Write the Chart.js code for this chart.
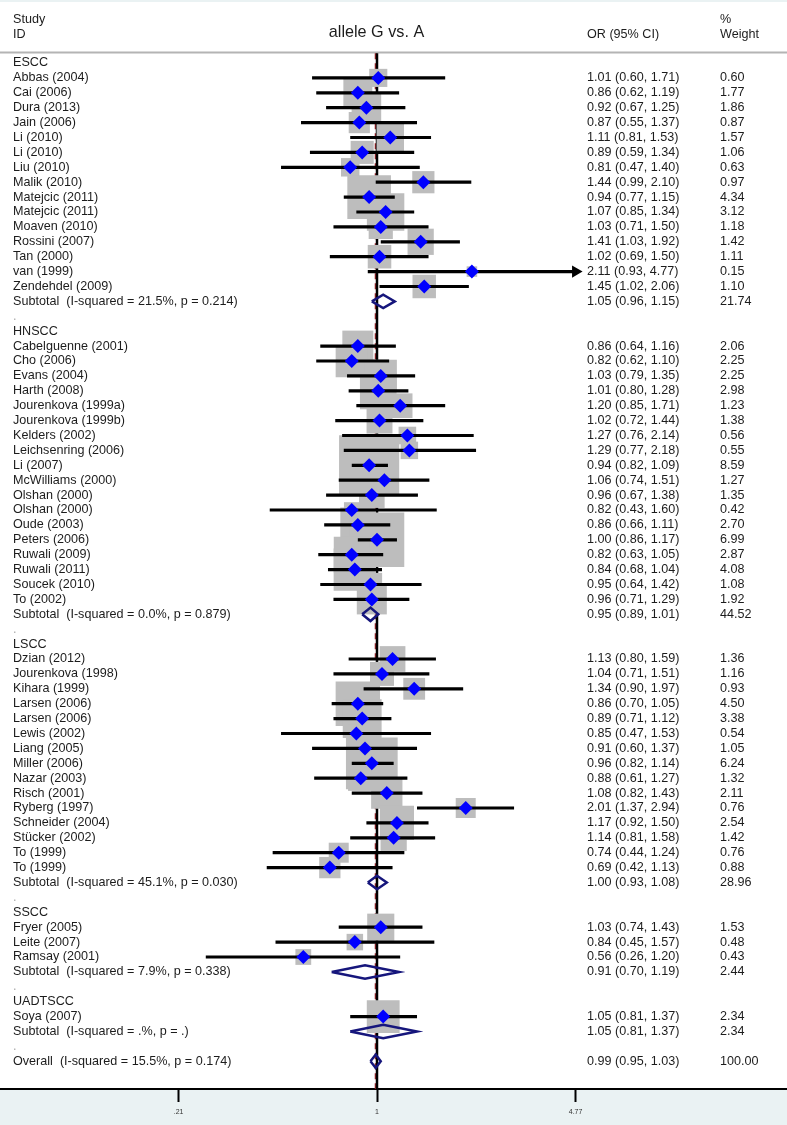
<!DOCTYPE html>
<html>
<head>
<meta charset="utf-8">
<script src="https://cdn.jsdelivr.net/npm/chart.js@4.4.1/dist/chart.umd.min.js"></script>
<style>
  html, body { margin: 0; padding: 0; background: #fff; }
  canvas { display: block; }
</style>
</head>
<body>
<canvas id="forest" width="787" height="1125"></canvas>
<script>
// forest plot rows, top to bottom (null = no estimate on that row)
const rowLabels = [
  'ESCC', 'Abbas (2004)', 'Cai (2006)', 'Dura (2013)', 'Jain (2006)', 'Li (2010)', 'Li (2010)', 'Liu (2010)',
  'Malik (2010)', 'Matejcic (2011)', 'Matejcic (2011)', 'Moaven (2010)', 'Rossini (2007)', 'Tan (2000)',
  'van (1999)', 'Zendehdel (2009)', 'Subtotal  (I-squared = 21.5%, p = 0.214)', '.',
  'HNSCC', 'Cabelguenne (2001)', 'Cho (2006)', 'Evans (2004)', 'Harth (2008)', 'Jourenkova (1999a)',
  'Jourenkova (1999b)', 'Kelders (2002)', 'Leichsenring (2006)', 'Li (2007)', 'McWilliams (2000)',
  'Olshan (2000)', 'Olshan (2000)', 'Oude (2003)', 'Peters (2006)', 'Ruwali (2009)', 'Ruwali (2011)',
  'Soucek (2010)', 'To (2002)', 'Subtotal  (I-squared = 0.0%, p = 0.879)', '.',
  'LSCC', 'Dzian (2012)', 'Jourenkova (1998)', 'Kihara (1999)', 'Larsen (2006)', 'Larsen (2006)',
  'Lewis (2002)', 'Liang (2005)', 'Miller (2006)', 'Nazar (2003)', 'Risch (2001)', 'Ryberg (1997)',
  'Schneider (2004)', 'Stücker (2002)', 'To (1999)', 'To (1999)', 'Subtotal  (I-squared = 45.1%, p = 0.030)', '.',
  'SSCC', 'Fryer (2005)', 'Leite (2007)', 'Ramsay (2001)', 'Subtotal  (I-squared = 7.9%, p = 0.338)', '.',
  'UADTSCC', 'Soya (2007)', 'Subtotal  (I-squared = .%, p = .)', '.',
  'Overall  (I-squared = 15.5%, p = 0.174)'
];

const orEst = [
  null, 1.01, 0.86, 0.92, 0.87, 1.11, 0.89, 0.81, 1.44, 0.94, 1.07, 1.03, 1.41, 1.02, 2.11, 1.45, 1.05, null,
  null, 0.86, 0.82, 1.03, 1.01, 1.20, 1.02, 1.27, 1.29, 0.94, 1.06, 0.96, 0.82, 0.86, 1.00, 0.82, 0.84, 0.95, 0.96, 0.95, null,
  null, 1.13, 1.04, 1.34, 0.86, 0.89, 0.85, 0.91, 0.96, 0.88, 1.08, 2.01, 1.17, 1.14, 0.74, 0.69, 1.00, null,
  null, 1.03, 0.84, 0.56, 0.91, null,
  null, 1.05, 1.05, null,
  0.99
];

const ciLow = [
  null, 0.60, 0.62, 0.67, 0.55, 0.81, 0.59, 0.47, 0.99, 0.77, 0.85, 0.71, 1.03, 0.69, 0.93, 1.02, 0.96, null,
  null, 0.64, 0.62, 0.79, 0.80, 0.85, 0.72, 0.76, 0.77, 0.82, 0.74, 0.67, 0.43, 0.66, 0.86, 0.63, 0.68, 0.64, 0.71, 0.89, null,
  null, 0.80, 0.71, 0.90, 0.70, 0.71, 0.47, 0.60, 0.82, 0.61, 0.82, 1.37, 0.92, 0.81, 0.44, 0.42, 0.93, null,
  null, 0.74, 0.45, 0.26, 0.70, null,
  null, 0.81, 0.81, null,
  0.95
];

const ciHigh = [
  null, 1.71, 1.19, 1.25, 1.37, 1.53, 1.34, 1.40, 2.10, 1.15, 1.34, 1.50, 1.92, 1.50, 4.77, 2.06, 1.15, null,
  null, 1.16, 1.10, 1.35, 1.28, 1.71, 1.44, 2.14, 2.18, 1.09, 1.51, 1.38, 1.60, 1.11, 1.17, 1.05, 1.04, 1.42, 1.29, 1.01, null,
  null, 1.59, 1.51, 1.97, 1.05, 1.12, 1.53, 1.37, 1.14, 1.27, 1.43, 2.94, 1.50, 1.58, 1.24, 1.13, 1.08, null,
  null, 1.43, 1.57, 1.20, 1.19, null,
  null, 1.37, 1.37, null,
  1.03
];

const weights = [
  null, 0.60, 1.77, 1.86, 0.87, 1.57, 1.06, 0.63, 0.97, 4.34, 3.12, 1.18, 1.42, 1.11, 0.15, 1.10, 21.74, null,
  null, 2.06, 2.25, 2.25, 2.98, 1.23, 1.38, 0.56, 0.55, 8.59, 1.27, 1.35, 0.42, 2.70, 6.99, 2.87, 4.08, 1.08, 1.92, 44.52, null,
  null, 1.36, 1.16, 0.93, 4.50, 3.38, 0.54, 1.05, 6.24, 1.32, 2.11, 0.76, 2.54, 1.42, 0.76, 0.88, 28.96, null,
  null, 1.53, 0.48, 0.43, 2.44, null,
  null, 2.34, 2.34, null,
  100.00
];

const tickValues = [0.21, 1, 4.77];
const tickLabels = ['.21', '1', '4.77'];
const nullValue = 1;

const FONT = '"Liberation Sans", Arial, sans-serif';
const ROW_PX = 14.9;
const yMin = -63 / ROW_PX;
const yMax = yMin + 1089 / ROW_PX;
const xMin = Math.exp(-377 / 127.1);
const xMax = Math.exp((787 - 377) / 127.1);
const lineTop = -0.65;
const DH = 0.45;

const isPooled = i => /^(Subtotal|Overall)/.test(rowLabels[i]);
const rows = rowLabels.map((_, i) => i);
const studyRows = rows.filter(i => orEst[i] != null && !isPooled(i));
const pooledRows = rows.filter(i => orEst[i] != null && isPooled(i));
const overallOR = orEst[orEst.length - 1];

const boxData = studyRows.map(i => ({ x: orEst[i], y: i, w: weights[i] }));
const pointData = studyRows.map(i => ({ x: orEst[i], y: i }));
const ciData = studyRows.flatMap(i => [{ x: ciLow[i], y: i }, { x: ciHigh[i], y: i }, { x: null, y: null }]);
const arrowData = studyRows.filter(i => ciHigh[i] >= tickValues[2]).map(i => ({ x: ciHigh[i], y: i }));
const diamondData = pooledRows.flatMap(i => [
  { x: ciLow[i], y: i }, { x: orEst[i], y: i - DH }, { x: ciHigh[i], y: i },
  { x: orEst[i], y: i + DH }, { x: ciLow[i], y: i }, { x: null, y: null }
]);

const forestText = {
  id: 'forestText',
  beforeDraw(chart) {
    const { ctx, width, height, chartArea } = chart;
    ctx.save();
    ctx.fillStyle = 'rgb(234,242,243)';
    ctx.fillRect(0, 0, width, height);
    ctx.fillStyle = '#fff';
    ctx.fillRect(0, 2, width, chartArea.bottom - 2);
    // header rule
    ctx.strokeStyle = '#b4b4b4';
    ctx.lineWidth = 2;
    ctx.beginPath();
    ctx.moveTo(0, 52.5);
    ctx.lineTo(width, 52.5);
    ctx.stroke();
    ctx.restore();
  },
  afterDraw(chart) {
    const { ctx } = chart;
    const ys = chart.scales.y;
    ctx.save();
    ctx.fillStyle = '#1c1c1c';
    ctx.textBaseline = 'middle';
    ctx.font = '12.6px ' + FONT;
    ctx.fillText('Study', 13, 20);
    ctx.fillText('ID', 13, 35);
    ctx.fillText('OR (95% CI)', 587, 35);
    ctx.fillText('%', 720, 20);
    ctx.fillText('Weight', 720, 35);
    ctx.textAlign = 'center';
    ctx.font = '16.2px ' + FONT;
    ctx.fillText('allele G vs. A', 376.5, 33);
    ctx.textAlign = 'left';
    ctx.font = '12.6px ' + FONT;
    rows.forEach(i => {
      const y = ys.getPixelForValue(i);
      ctx.fillStyle = rowLabels[i] === '.' ? '#aaaaaa' : '#1c1c1c';
      ctx.fillText(rowLabels[i], 13, y);
      if (orEst[i] != null) {
        ctx.fillStyle = '#1c1c1c';
        ctx.fillText(orEst[i].toFixed(2) + ' (' + ciLow[i].toFixed(2) + ', ' + ciHigh[i].toFixed(2) + ')', 587, y);
        ctx.fillText(weights[i].toFixed(2), 720, y);
      }
    });
    ctx.restore();
  }
};

new Chart(document.getElementById('forest'), {
  type: 'scatter',
  data: {
    datasets: [
      {
        type: 'line', order: 7, data: [{ x: overallOR, y: lineTop }, { x: overallOR, y: yMax }],
        borderColor: '#a0282d', borderWidth: 2, borderDash: [6, 4], pointRadius: 0
      },
      {
        type: 'line', order: 6, data: [{ x: nullValue, y: lineTop }, { x: nullValue, y: yMax }],
        borderColor: '#000', borderWidth: 2.5, pointRadius: 0
      },
      {
        order: 5, data: boxData, pointStyle: 'rect', backgroundColor: '#bdbdbd', borderWidth: 0,
        pointRadius: c => c.raw ? (3 + 19.5 * Math.sqrt(c.raw.w)) / Math.SQRT2 : 0
      },
      {
        type: 'line', order: 4, data: ciData, borderColor: '#000', borderWidth: 3.2,
        borderCapStyle: 'butt', pointRadius: 0, spanGaps: false
      },
      {
        order: 3, data: arrowData, pointStyle: 'triangle', rotation: 90, pointRadius: 7,
        backgroundColor: '#000', borderWidth: 0
      },
      {
        order: 2, data: pointData, pointStyle: 'rectRot', pointRadius: 7,
        backgroundColor: '#0000ff', borderWidth: 0
      },
      {
        type: 'line', order: 1, data: diamondData, borderColor: '#16167c', borderWidth: 2.5,
        pointRadius: 0, spanGaps: false, fill: false
      }
    ]
  },
  options: {
    responsive: false,
    animation: false,
    events: [],
    layout: { padding: 0, autoPadding: false },
    plugins: { legend: { display: false }, tooltip: { enabled: false } },
    scales: {
      x: {
        type: 'logarithmic', min: xMin, max: xMax, bounds: 'data', position: 'bottom',
        afterBuildTicks: s => { s.ticks = tickValues.map(v => ({ value: v })); },
        afterFit: s => { s.height = 36; },
        grid: { drawOnChartArea: false, drawTicks: true, tickLength: 13, tickWidth: 2, tickColor: '#000' },
        border: { display: true, color: '#000', width: 2 },
        ticks: {
          callback: (v, i) => tickLabels[i], autoSkip: false, maxRotation: 0, padding: 6,
          color: '#333', font: { size: 7, family: FONT }
        }
      },
      y: { type: 'linear', reverse: true, min: yMin, max: yMax, display: false }
    }
  },
  plugins: [forestText]
});
</script>
</body>
</html>
